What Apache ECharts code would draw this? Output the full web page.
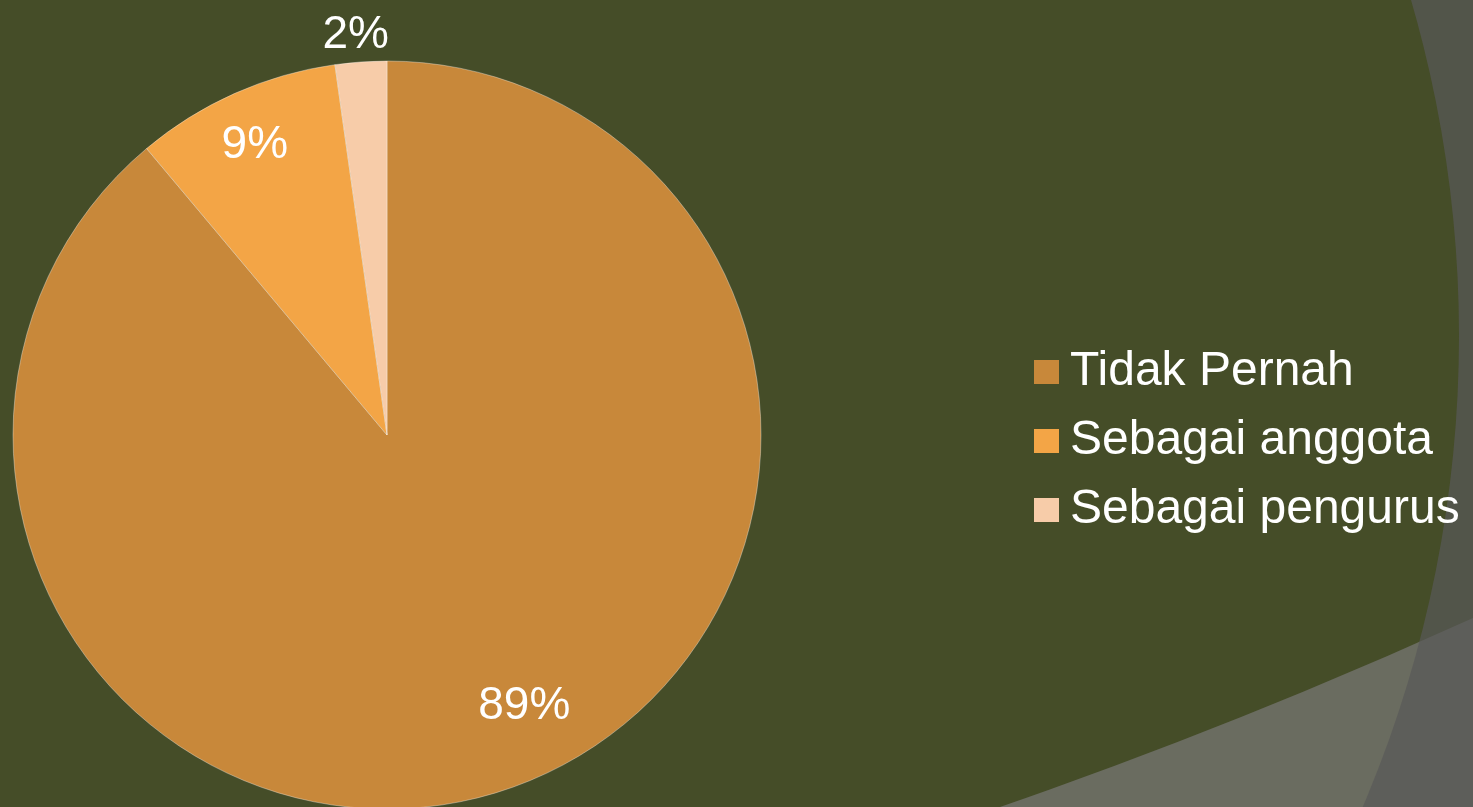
<!DOCTYPE html>
<html>
<head>
<meta charset="utf-8">
<style>
html,body{margin:0;padding:0;background:#454D28;}
#c{width:1473px;height:807px;}
</style>
<script src="https://cdn.jsdelivr.net/npm/echarts@6/dist/echarts.min.js"></script>
</head>
<body>
<div id="c"></div>
<script>
// Data
var categories = ['Tidak Pernah', 'Sebagai anggota', 'Sebagai pengurus'];
var values = [40, 4, 1];
var colors = ['#C8883A', '#F3A546', '#F7CCA9'];

var chart = echarts.init(document.getElementById('c'));
var FONT = '"Liberation Sans", Arial, sans-serif';
var CENTER = [387, 435];
var R = 374;

function pieData(labelIndex, labelOpt) {
  return categories.map(function (n, i) {
    var d = { name: n, value: values[i] };
    if (labelIndex === null) {
      d.itemStyle = { color: colors[i] };
    } else {
      d.itemStyle = { color: 'rgba(0,0,0,0)' };
      d.label = { show: i === labelIndex };
      if (i === labelIndex && labelOpt) Object.assign(d.label, labelOpt);
    }
    return d;
  });
}

var labelStyle = {
  position: 'inside',
  color: '#FFFFFF',
  fontSize: 46,
  fontFamily: FONT,
  formatter: function (p) { return Math.round(p.percent) + '%'; }
};

function overlay(radius, idx, extra) {
  return {
    type: 'pie', center: CENTER, radius: radius,
    silent: true, clockwise: true, startAngle: 90,
    label: labelStyle, labelLine: { show: false },
    emphasis: { disabled: true },
    data: pieData(idx, extra), z: 5
  };
}

chart.setOption({
  backgroundColor: '#454D28',
  animation: false,
  graphic: [
    {
      type: 'ring', z: -10, silent: true,
      shape: { cx: -820, cy: -4434, r0: 5548, r: 7000 },
      style: { fill: '#6A6C60' }
    },
    {
      type: 'ring', z: -9, silent: true,
      shape: { cx: 259, cy: 336, r0: 1200, r: 2000 },
      style: { fill: 'rgba(89,89,89,0.7)' }
    }
  ],
  legend: {
    orient: 'vertical',
    left: 1034,
    top: 344,
    padding: 0,
    itemWidth: 25,
    itemHeight: 24,
    itemGap: 13,
    icon: 'rect',
    selectedMode: false,
    itemStyle: { borderWidth: 0 },
    textStyle: {
      color: '#FFFFFF', fontSize: 48, fontFamily: FONT,
      lineHeight: 56, padding: [0, 0, 0, 6]
    },
    data: categories.map(function (n, i) {
      return { name: n, itemStyle: { color: colors[i], borderWidth: 0 } };
    })
  },
  series: [
    {
      type: 'pie', center: CENTER, radius: [0, R],
      clockwise: true, startAngle: 90,
      label: { show: false }, labelLine: { show: false },
      itemStyle: { borderColor: 'rgba(255,255,255,0.35)', borderWidth: 1 },
      emphasis: { disabled: true },
      data: pieData(null)
    },
    overlay([224, R], 0, { offset: [34, -12] }),
    overlay([270, R], 1, { offset: [0, 7] }),
    overlay([R, 432], 2, { offset: [-3, 5] })
  ]
});
</script>
</body>
</html>
